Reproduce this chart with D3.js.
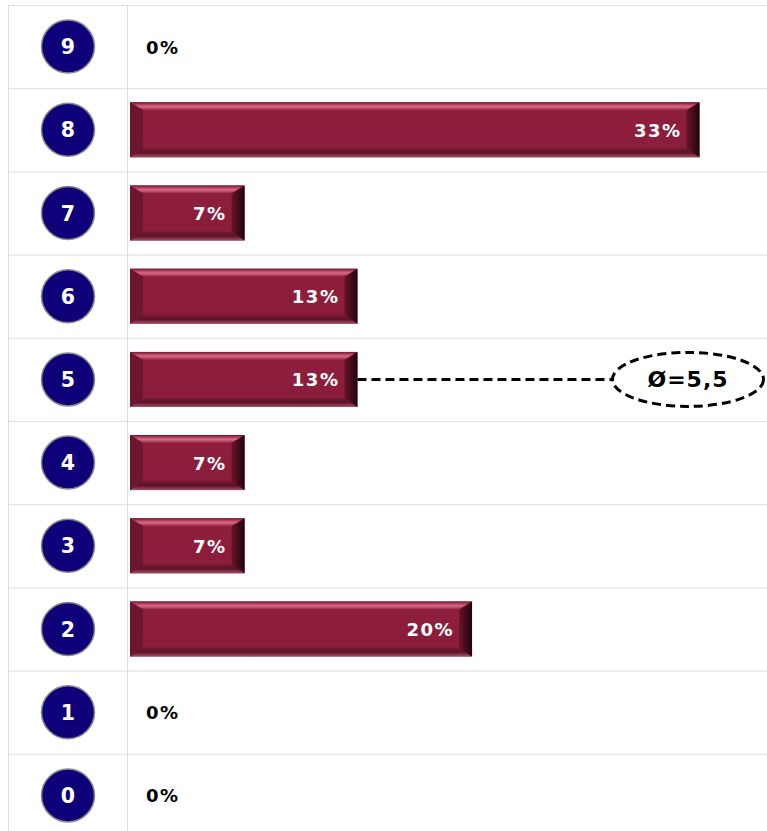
<!DOCTYPE html>
<html>
<head>
<meta charset="utf-8">
<script src="https://cdn.jsdelivr.net/npm/d3@7"></script>
<style>
  body { margin: 0; background: #fff; }
  svg { display: block; }
</style>
</head>
<body>
<div id="chart"></div>
<script>
// antwortkategorien (oben 9, unten 0)
const categories = ["9", "8", "7", "6", "5", "4", "3", "2", "1", "0"];
// anteil in prozent
const values = [0, 33.3, 6.7, 13.3, 13.3, 6.7, 6.7, 20, 0, 0];
const labels = ["0%", "33%", "7%", "13%", "13%", "7%", "7%", "20%", "0%", "0%"];
const average = 5.5;
const averageLabel = "Ø=5,5";

const W = 767, H = 831;
const svg = d3.select("#chart").append("svg").attr("width", W).attr("height", H);

const y = d3.scaleBand().domain(categories).range([5, 837]);
const x = d3.scaleLinear().domain([0, 33.33]).range([130, 700]);

const defs = svg.append("defs");
function grad(id, stops) {
    const g = defs.append("linearGradient").attr("id", id)
        .attr("x1", 0).attr("y1", 0).attr("x2", 0).attr("y2", 1);
    stops.forEach(s => g.append("stop").attr("offset", s[0]).attr("stop-color", s[1]));
}
grad("topFace", [[0, "#6f1530"], [0.3, "#b8445f"], [0.55, "#d46b86"], [1, "#93223f"]]);
grad("botFace", [[0, "#7a1a35"], [0.5, "#5a1226"], [1, "#a65068"]]);
grad("midFace", [[0, "#8e1f3d"], [1, "#8a1d3b"]]);
const gr = defs.append("linearGradient").attr("id", "rightFace")
    .attr("x1", 0).attr("y1", 0).attr("x2", 1).attr("y2", 0);
gr.append("stop").attr("offset", 0).attr("stop-color", "#6a1429");
gr.append("stop").attr("offset", 1).attr("stop-color", "#1e050c");

// grid
const grid = svg.append("g").attr("stroke", "#dcdcdc").attr("stroke-width", 1);
categories.forEach(c => {
    grid.append("line").attr("x1", 8).attr("x2", W).attr("y1", y(c) + 0.5).attr("y2", y(c) + 0.5);
});
grid.append("line").attr("x1", 8.5).attr("x2", 8.5).attr("y1", 5).attr("y2", H);
grid.append("line").attr("x1", 127.5).attr("x2", 127.5).attr("y1", 5).attr("y2", H);

// kreise mit nummern
const rows = svg.selectAll(".row").data(categories).join("g").attr("class", "row")
    .attr("transform", d => `translate(0,${y(d) + y.bandwidth() / 2})`);
rows.append("circle").attr("cx", 68).attr("cy", 0).attr("r", 26.5)
    .attr("fill", "#0e0079").attr("stroke", "#8a8a8a").attr("stroke-width", 1.5);
rows.append("text").attr("x", 68).attr("y", 7.5).attr("text-anchor", "middle")
    .attr("font-family", "DejaVu Sans").attr("font-weight", "bold").attr("font-size", 20.5)
    .attr("fill", "#fff").text(d => d);

// balken mit bevel
const bh = 55, bv = 13, bt = 8, bb = 9;
const data = categories.map((c, i) => ({ cat: c, value: values[i], label: labels[i] }));
const bars = svg.selectAll(".bar").data(data.filter(d => d.value > 0)).join("g").attr("class", "bar")
    .attr("transform", d => `translate(0,${y(d.cat) + y.bandwidth() / 2 - bh / 2})`);
bars.each(function (d) {
    const g = d3.select(this);
    const x0 = x(0), x1 = x(d.value);
    g.append("rect").attr("x", x0).attr("y", 0).attr("width", x1 - x0).attr("height", bh).attr("fill", "url(#midFace)");
    g.append("polygon").attr("fill", "url(#topFace)")
        .attr("points", [[x0, 0], [x1, 0], [x1 - bv, bt], [x0 + bv, bt]].join(" "));
    g.append("polygon").attr("fill", "url(#botFace)")
        .attr("points", [[x0, bh], [x1, bh], [x1 - bv, bh - bb], [x0 + bv, bh - bb]].join(" "));
    g.append("polygon").attr("fill", "#6c1630")
        .attr("points", [[x0, 0], [x0 + bv, bt], [x0 + bv, bh - bb], [x0, bh]].join(" "));
    g.append("polygon").attr("fill", "url(#rightFace)")
        .attr("points", [[x1, 0], [x1 - bv, bt], [x1 - bv, bh - bb], [x1, bh]].join(" "));
});

// beschriftungen
svg.selectAll(".lbl").data(data).join("text").attr("class", "lbl")
    .attr("x", d => d.value > 0 ? x(d.value) - 18 : x(0) + 16)
    .attr("y", d => y(d.cat) + y.bandwidth() / 2 + 7)
    .attr("text-anchor", d => d.value > 0 ? "end" : "start")
    .attr("font-family", "DejaVu Sans").attr("font-weight", "bold").attr("font-size", 18)
    .attr("letter-spacing", 1.5)
    .attr("fill", d => d.value > 0 ? "#fff" : "#000")
    .text(d => d.label);

// mittelwert
const avgCat = String(Math.round(average - 0.01));
const ay = y(avgCat) + y.bandwidth() / 2;
const avgVal = values[categories.indexOf(avgCat)];
const ecx = 688, rx = 75.5, ry = 27;
svg.append("line").attr("x1", x(avgVal)).attr("x2", ecx - rx).attr("y1", ay).attr("y2", ay)
    .attr("stroke", "#000").attr("stroke-width", 3).attr("stroke-dasharray", "9,5");
svg.append("ellipse").attr("cx", ecx).attr("cy", ay).attr("rx", rx).attr("ry", ry)
    .attr("fill", "#fff").attr("stroke", "#000").attr("stroke-width", 3).attr("stroke-dasharray", "9,5");
svg.append("text").attr("x", ecx).attr("y", ay + 8).attr("text-anchor", "middle")
    .attr("font-family", "DejaVu Sans").attr("font-weight", "bold").attr("font-size", 22)
    .attr("letter-spacing", 1)
    .text(averageLabel);
</script>
</body>
</html>
